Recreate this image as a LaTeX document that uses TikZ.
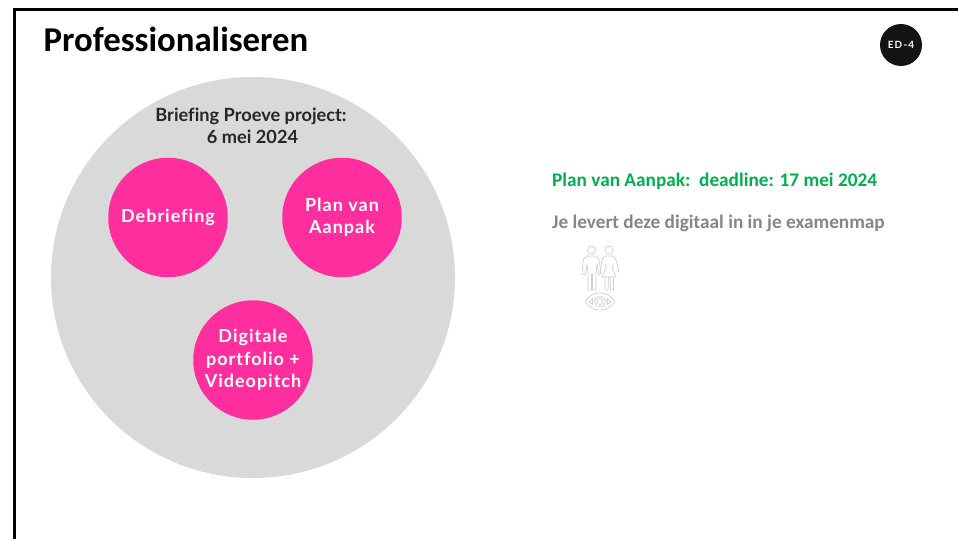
\documentclass[tikz,border=0pt]{standalone}
\usetikzlibrary{shapes.geometric}
\usepackage{fontspec}
\setmainfont{Carlito}
\newfontfamily\latofont{Lato}
\newfontfamily\latospaced[LetterSpace=5.5,Ligatures=NoCommon]{Lato}
\newfontfamily\latobadge[LetterSpace=12]{Lato}
\newfontfamily\latoplain[Ligatures=NoCommon]{Lato}
\definecolor{hotpink}{HTML}{FF2E9E}
\definecolor{biggrey}{HTML}{D9D9D9}
\definecolor{dlgreen}{HTML}{00B050}
\definecolor{txtgrey}{HTML}{868686}
\definecolor{badge}{HTML}{141416}
\definecolor{iconc}{HTML}{CFCFCF}
\tikzset{
  pinkdot/.style={circle,fill=hotpink,minimum size=119.5pt,inner sep=0pt,text=white,align=center,
    font=\latospaced\bfseries\fontsize{18}{22.5}\selectfont},
  label/.style={anchor=west,inner sep=0pt,font=\bfseries\fontsize{19.27}{22}\selectfont},
  icon/.style={draw=iconc,line width=0.7pt,fill=none,line join=round}
}
\begin{document}
\begin{tikzpicture}[x=1pt,y=-1pt]
\useasboundingbox (0,0) rectangle (958,539);
\fill[white] (0,0) rectangle (958,539);
\coordinate (ftop) at (958,9);
\coordinate (fcorner) at (14.5,9);
\coordinate (fbot) at (14.5,539);
\draw[line width=3pt,black,line join=miter] (ftop) -- (fcorner) -- (fbot);
\node[anchor=west,inner sep=0pt,font=\bfseries\fontsize{34.8}{38}\selectfont] (title) at (43.5,39.5) {Professionaliseren};
\node[circle,fill=badge,minimum size=42pt,inner sep=0pt,text=white,
  font=\latobadge\bfseries\fontsize{10}{11}\selectfont] (ed) at (901,45) {ED-4};
\node[ellipse,fill=biggrey,minimum width=404pt,minimum height=401pt,inner sep=0pt] (big) at (253,277.5) {};
\node[inner sep=0pt,align=center,text=black!85,font=\latoplain\bfseries\fontsize{18.2}{22}\selectfont] (brief) at (251,126) {Briefing Proeve project:\\\hspace*{3pt}6 mei 2024};
\node[pinkdot] (deb) at (168,217.5) {Debriefing};
\node[pinkdot] (pva) at (342,217.5) {Plan van\\Aanpak};
\node[pinkdot] (dig) at (253,360) {Digitale\\portfolio +\\Videopitch};
\node[label,text=dlgreen] (plan) at (552,181) {Plan van Aanpak:\ \ deadline: 17 mei 2024};
\node[label,text=txtgrey] (lever) at (552,223.5) {Je levert deze digitaal in in je examenmap};
% people icon
\draw[icon] (591.5,250) circle (4);
\draw[icon] (609,250) circle (4);
\draw[icon] (587,256) .. controls (584,257) and (583,259) .. (583,263) -- (582,274) -- (585,275) -- (587,264)
  -- (588,273) -- (588,290) -- (591.5,290) -- (591.5,274) -- (592.5,274) -- (592.5,290) -- (596,290) -- (596,273)
  -- (597,264) -- (599,275) -- (601,273) -- (599.5,263) .. controls (599,259) and (598,257) .. (595,256) -- cycle;
\draw[icon] (605,256) .. controls (603,257) and (602,259) .. (601.5,263) -- (600,273) (605,256) -- (613,256)
  .. controls (615,257) and (616,259) .. (617,263) -- (619,273);
\draw[icon] (605,264) -- (606,268) -- (602,277) -- (616,277) -- (612,268) -- (613,264);
\draw[icon] (605,277) -- (605,290) -- (608,290) -- (608.5,277) (610,277) -- (610.5,290) -- (613.5,290) -- (613.5,277);
% eye icon
\draw[icon] (585,301.5) .. controls (592,290) and (608,290) .. (615,301.5) .. controls (608,313) and (592,313) .. (585,301.5) -- cycle;
\draw[icon] (600,301.5) circle (5.5);
\draw[icon] (600,301.5) circle (3);
\draw[icon] (589,301.5) -- (592.5,298.5) -- (592.5,304.5) -- cycle;
\draw[icon] (611,301.5) -- (607.5,298.5) -- (607.5,304.5) -- cycle;
\end{tikzpicture}
\end{document}
